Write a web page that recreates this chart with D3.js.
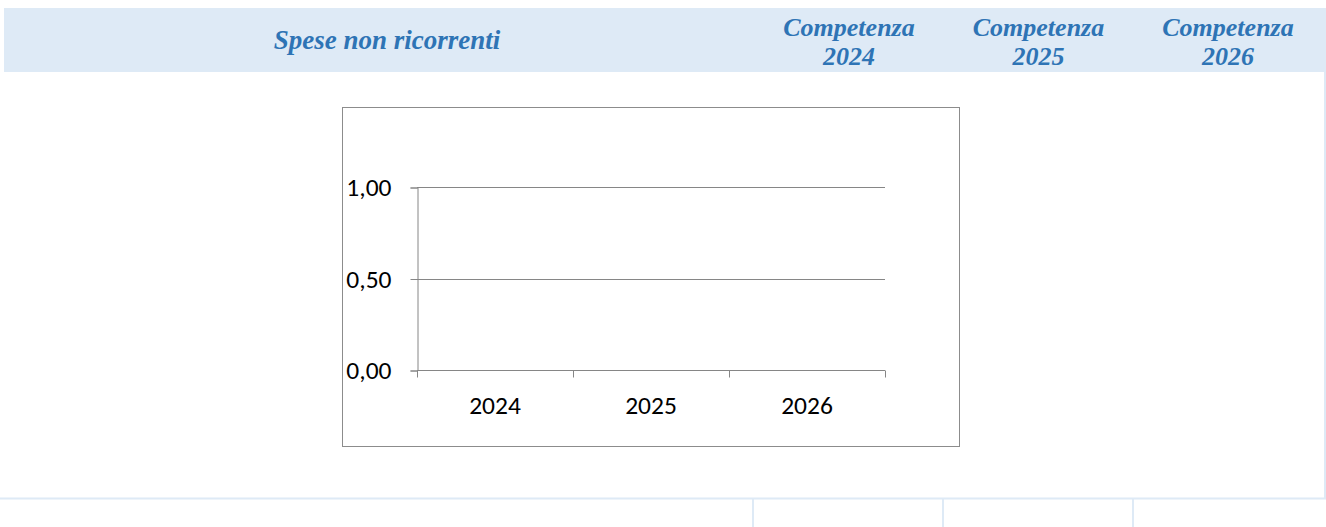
<!DOCTYPE html>
<html>
<head>
<meta charset="utf-8">
<script src="https://cdn.jsdelivr.net/npm/d3@7"></script>
<style>
  body { margin: 0; background: #fff; }
  svg { display: block; }
</style>
</head>
<body>
<script>
// header columns of the table
let headerTitle = "Spese non ricorrenti";
let headerCols = [["Competenza", "2024"], ["Competenza", "2025"], ["Competenza", "2026"]];

// chart data
let years = ["2024", "2025", "2026"];
let values = [0, 0, 0];
let yTicks = [0, 0.5, 1];

let width = 1326, height = 527;
let blue = "#2e74b5";
let band = "#deeaf6";

let svg = d3.select("body").append("svg")
  .attr("width", width)
  .attr("height", height);

// table header
svg.append("rect")
  .attr("x", 4).attr("y", 8)
  .attr("width", width - 4).attr("height", 64)
  .attr("fill", band);

svg.append("text")
  .attr("x", 387).attr("y", 49)
  .attr("text-anchor", "middle")
  .attr("font-family", "Liberation Serif, serif")
  .attr("font-style", "italic").attr("font-weight", "bold")
  .attr("font-size", 27)
  .attr("fill", blue)
  .text(headerTitle);

let colX = d3.scalePoint().domain(d3.range(headerCols.length)).range([849, 1228]);

headerCols.forEach(function(lines, i) {
  let t = svg.append("text")
    .attr("text-anchor", "middle")
    .attr("font-family", "Liberation Serif, serif")
    .attr("font-style", "italic").attr("font-weight", "bold")
    .attr("font-size", 26)
    .attr("fill", blue);
  lines.forEach(function(s, j) {
    t.append("tspan").attr("x", colX(i)).attr("y", 36 + j * 29).text(s);
  });
});

// table grid lines
svg.append("line")
  .attr("x1", 0).attr("x2", width)
  .attr("y1", 498.5).attr("y2", 498.5)
  .attr("stroke", band).attr("stroke-width", 2);
svg.append("line")
  .attr("x1", 1325).attr("x2", 1325)
  .attr("y1", 72).attr("y2", 498)
  .attr("stroke", band).attr("stroke-width", 2);
[753, 943, 1133].forEach(function(x) {
  svg.append("line")
    .attr("x1", x).attr("x2", x)
    .attr("y1", 498).attr("y2", height)
    .attr("stroke", band).attr("stroke-width", 2);
});

// chart frame
svg.append("rect")
  .attr("x", 342.5).attr("y", 107.5)
  .attr("width", 617).attr("height", 339)
  .attr("fill", "#fff")
  .attr("stroke", "#8c8c8c").attr("stroke-width", 1);

let plot = { left: 417, right: 885, top: 187, bottom: 370 };

let x = d3.scaleBand().domain(years).range([plot.left, plot.right]);
let y = d3.scaleLinear().domain([0, 1]).range([plot.bottom, plot.top]);

let g = svg.append("g");
let fontFam = "Carlito, 'Open Sans', 'Noto Sans', sans-serif";

// gridlines
g.selectAll(".grid").data(yTicks.filter(d => d > 0)).enter()
  .append("line")
  .attr("x1", plot.left).attr("x2", plot.right)
  .attr("y1", d => Math.round(y(d)) + 0.5).attr("y2", d => Math.round(y(d)) + 0.5)
  .attr("stroke", "#868686").attr("stroke-width", 1);

// y axis
let yAxis = g.append("g")
  .attr("transform", "translate(" + (plot.left + 0.5) + ",0.5)")
  .call(d3.axisLeft(y).tickValues(yTicks).tickSize(7).tickPadding(19)
    .tickFormat(d => d3.format(".2f")(d).replace(".", ",")));
yAxis.select(".domain").attr("stroke", "#868686");
yAxis.selectAll(".tick line").attr("stroke", "#868686");
yAxis.selectAll("text")
  .attr("font-family", fontFam).attr("font-size", 25.5).attr("fill", "#000");

// x axis with ticks at category boundaries
let xAxis = g.append("g")
  .attr("transform", "translate(0," + (plot.bottom + 0.5) + ")");
xAxis.append("line")
  .attr("x1", plot.left).attr("x2", plot.right)
  .attr("stroke", "#868686");
let bounds = years.map(d => x(d)).concat([plot.right]);
xAxis.selectAll(".xt").data(bounds).enter().append("line")
  .attr("x1", d => Math.round(d) + 0.5).attr("x2", d => Math.round(d) + 0.5)
  .attr("y1", 0).attr("y2", 7)
  .attr("stroke", "#868686");
xAxis.selectAll(".xl").data(years).enter().append("text")
  .attr("x", d => x(d) + x.bandwidth() / 2)
  .attr("y", 43)
  .attr("text-anchor", "middle")
  .attr("font-family", fontFam).attr("font-size", 25.5)
  .text(d => d);

// bars (all values are zero)
g.selectAll(".bar").data(values).enter().append("rect")
  .attr("x", (d, i) => x(years[i]) + x.bandwidth() * 0.25)
  .attr("width", x.bandwidth() * 0.5)
  .attr("y", d => y(d))
  .attr("height", d => plot.bottom - y(d))
  .attr("fill", "#4f81bd");
</script>
</body>
</html>
